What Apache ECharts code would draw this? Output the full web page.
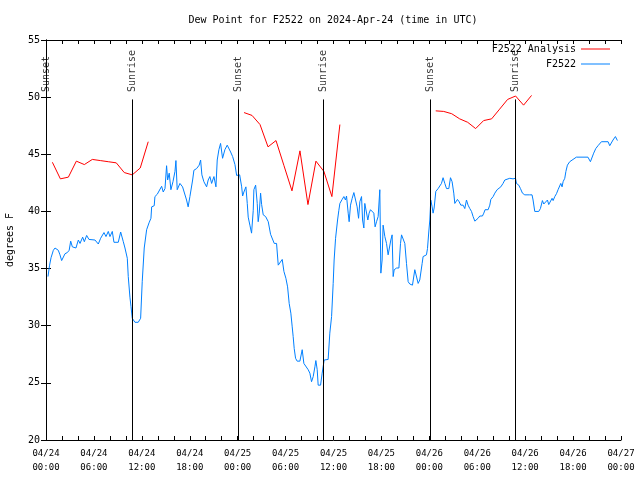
<!DOCTYPE html>
<html><head><meta charset="utf-8">
<script src="https://cdn.jsdelivr.net/npm/echarts@6/dist/echarts.min.js"></script>
<style>html,body{margin:0;padding:0;background:#fff}#c{width:640px;height:480px}</style>
</head><body><div id="c"></div>
<script>
// Hours since 2024-04-24 00:00 UTC
const analysisHours = [0.8,1.8,2.8,3.8,4.8,5.8,6.8,7.8,8.8,9.8,10.8,11.8,12.8,null,
  24.8,25.8,26.8,27.8,28.8,29.8,30.8,31.8,32.8,33.8,34.8,35.8,36.8,null,
  48.8,49.8,50.8,51.8,52.8,53.8,54.8,55.8,56.8,57.8,58.8,59.8,60.8];
const analysisValues = [44.3,42.85,43.0,44.4,44.1,44.55,44.45,44.35,44.25,43.4,43.2,43.8,46.1,null,
  48.65,48.4,47.6,45.65,46.2,44.0,41.8,45.3,40.6,44.4,43.5,41.3,47.6,null,
  48.8,48.75,48.55,48.1,47.8,47.25,47.95,48.1,48.95,49.8,50.1,49.3,50.15];

const f2522Hours = [0.25,0.45,0.63,0.92,1.13,1.54,1.75,1.96,2.2,2.38,2.67,2.9,3.09,3.3,3.75,4.05,4.26,4.59,4.8,5.09,5.38,6.13,6.35,6.55,6.84,7.26,7.51,7.8,8.01,8.3,8.51,9.05,9.35,9.68,9.89,10.18,10.3,10.51,10.64,10.8,11.14,11.55,11.85,12.05,12.3,12.6,12.9,13.14,13.23,13.55,13.64,13.93,14.18,14.48,14.68,14.9,15.1,15.23,15.43,15.64,15.9,16.15,16.27,16.43,16.77,17.1,17.6,17.8,18.02,18.36,18.52,18.86,19.18,19.36,19.52,19.77,20.11,20.31,20.52,20.74,21.03,21.28,21.44,21.65,21.86,22.11,22.4,22.69,22.9,23.12,23.37,23.66,23.87,24.25,24.5,24.62,24.78,25.03,25.2,25.32,25.53,25.74,25.95,26.03,26.25,26.45,26.57,26.7,26.87,27.0,27.2,27.5,27.83,28.12,28.37,28.58,28.87,29.08,29.29,29.58,29.79,30.04,30.25,30.45,30.66,30.83,30.95,31.08,31.25,31.45,31.79,32.08,32.29,32.54,32.83,33.04,33.25,33.46,33.67,33.79,33.96,34.08,34.38,34.58,34.83,35.33,35.54,35.76,35.96,36.08,36.26,36.51,36.67,36.8,37.08,37.3,37.5,37.63,37.84,37.96,38.13,38.34,38.55,38.76,38.96,39.14,39.3,39.51,39.64,39.8,39.92,40.13,40.3,40.46,40.63,40.88,41.05,41.21,41.39,41.59,41.8,41.93,42.09,42.21,42.43,42.64,42.84,43.05,43.18,43.34,43.47,43.6,43.9,44.19,44.39,44.52,44.72,44.93,45.14,45.35,45.55,45.89,46.18,46.39,46.6,46.8,47.1,47.22,47.64,47.77,47.93,48.06,48.18,48.35,48.47,48.6,48.81,49.1,49.31,49.52,49.72,49.94,50.15,50.44,50.65,50.85,51.06,51.19,51.31,51.52,51.73,51.94,52.23,52.44,52.65,52.85,53.07,53.28,53.48,53.7,53.9,54.1,54.32,54.65,54.82,54.98,55.36,55.57,55.7,55.99,56.2,56.49,56.74,56.95,57.23,57.45,57.65,58.07,58.48,58.79,58.91,59.2,59.41,59.66,59.95,60.57,60.7,60.86,60.99,61.2,61.7,61.91,62.16,62.33,62.58,62.79,62.95,63.17,63.37,63.5,63.71,63.92,64.12,64.33,64.46,64.62,64.75,64.96,65.1,65.29,65.45,65.58,65.79,66.41,67.86,68.17,68.42,68.58,68.84,69.12,69.55,70.38,70.59,70.8,71.0,71.3,71.55];
const f2522Values = [34.3,35.3,35.95,36.6,36.8,36.6,36.2,35.7,35.8,36.3,36.4,36.6,37.4,36.9,36.8,37.5,37.2,37.75,37.35,37.9,37.55,37.5,37.5,37.15,37.65,38.15,37.8,38.25,37.8,38.25,37.3,37.3,38.2,37.35,36.8,35.9,34.3,32.5,31.7,30.65,30.3,30.3,30.65,33.85,36.8,38.4,39.0,39.4,40.4,40.5,41.3,41.5,41.6,42.2,41.7,42.0,44.0,42.75,43.35,41.9,42.6,43.5,44.45,41.9,42.45,42.15,41.0,40.4,41.3,42.75,43.6,43.75,44.05,44.5,43.2,42.6,42.15,42.75,43.05,42.45,43.05,42.15,44.5,45.4,45.95,44.65,45.4,45.8,45.65,45.2,44.8,44.1,43.15,43.2,42.15,41.35,41.7,42.15,40.7,39.5,38.8,38.1,40.1,41.9,42.3,40.7,39.1,39.85,41.6,40.6,39.7,39.55,39.1,38.0,38.1,37.2,37.2,35.3,35.45,35.8,34.75,34.15,33.4,31.95,31.1,29.9,29.05,28.0,27.15,26.9,26.9,27.9,26.7,26.55,26.15,25.85,25.1,25.55,26.4,26.95,26.15,24.8,24.8,25.85,27.0,27.05,29.35,30.8,33.7,35.75,37.65,39.25,40.1,40.7,41.05,41.3,41.0,41.35,39.85,39.1,40.55,41.15,41.65,41.6,40.4,39.4,40.85,41.3,39.25,38.55,40.7,40.85,39.25,39.85,40.15,40.25,39.85,38.65,39.1,39.55,41.9,34.6,35.75,38.8,37.8,37.2,36.2,36.2,37.5,37.95,34.3,34.9,35.05,35.05,37.2,37.95,37.85,37.2,35.45,33.85,33.65,33.55,34.9,34.95,33.7,34.0,35.45,36.05,36.2,36.75,38.2,39.25,41.0,40.4,39.85,40.3,41.75,42.0,41.9,42.45,42.95,42.45,42.0,42.0,42.95,42.6,41.6,40.7,40.85,41.05,40.85,40.55,40.55,40.25,41.0,40.55,40.25,40.0,39.55,39.15,39.15,39.4,39.6,39.6,39.85,40.15,40.15,40.55,41.05,41.3,41.6,41.9,41.95,42.15,42.45,42.75,42.9,42.9,42.85,42.9,42.45,42.3,42.0,41.6,41.45,41.45,41.6,41.45,41.0,40.0,40.0,40.25,40.95,40.65,40.7,41.0,40.6,40.7,41.15,40.95,41.3,41.55,41.9,41.95,42.45,42.15,42.6,42.9,43.5,44.05,43.9,44.35,44.35,44.75,44.75,44.35,44.25,45.1,45.5,45.75,46.1,46.1,45.75,45.75,46.25,46.55,46.2];

const sunEventHours = [0.08, 10.78, 24.1, 34.72, 48.13, 58.8];
const sunEventNames = ['Sunset','Sunrise','Sunset','Sunrise','Sunset','Sunrise'];

const days = ['04/24','04/25','04/26','04/27'];

const FONT = 'DejaVu Sans Mono';
const SUN_LINE_TOP = 49.8;
const SUN_LABEL_BASE = 50.45;
const LINE_ICON = 'path://M0,0H29V1H0Z';

function pairs(xs, ys){ return xs.map((x,i)=> (x===null||ys[i]===null) ? ['-','-'] : [x, ys[i]]); }
function xLabel(v){
  if (v % 6 !== 0) return '';
  const d = days[Math.floor(v/24)];
  const h = v % 24;
  return d + '\n' + (h<10?'0':'') + h + ':00';
}

const chart = echarts.init(document.getElementById('c'), null, {renderer:'canvas'});
chart.setOption({
  animation: false,
  backgroundColor: '#fff',
  title: {
    text: 'Dew Point for F2522 on 2024-Apr-24 (time in UTC)',
    left: 328, top: 10, textAlign: 'center',
    textStyle: {fontFamily: FONT, fontSize: 10, fontWeight: 'normal', color: '#000'}
  },
  legend: {
    data: [{name:'F2522 Analysis', icon: LINE_ICON},{name:'F2522', icon: LINE_ICON}],
    orient: 'vertical', align: 'right', right: 30, top: 44, padding: 0,
    itemWidth: 29, itemHeight: 12, itemGap: 5,
    textStyle: {fontFamily: FONT, fontSize: 10, color: '#000'},
    selectedMode: false
  },
  grid: {left: 46, right: 19, top: 40, bottom: 40, outerBoundsMode: 'none', containLabel: false},
  xAxis: [{
    type: 'value', min: 0, max: 72, interval: 2, position: 'bottom',
    axisLine: {lineStyle: {color: '#000', width: 1}},
    axisTick: {inside: true, length: 4, lineStyle: {color: '#000'}},
    axisLabel: {formatter: xLabel, fontFamily: FONT, fontSize: 9, color: '#000', margin: 7, lineHeight: 14, showMinLabel: true, showMaxLabel: true, hideOverlap: false},
    splitLine: {show: false}
  },{
    type: 'value', min: 0, max: 72, interval: 2, position: 'top',
    axisLine: {lineStyle: {color: '#000', width: 1}},
    axisTick: {inside: true, length: 4, lineStyle: {color: '#000'}},
    axisLabel: {show: false}, splitLine: {show: false}
  }],
  yAxis: [{
    type: 'value', min: 20, max: 55, interval: 5, position: 'left',
    name: 'degrees F', nameLocation: 'middle', nameGap: 31, nameRotate: 90,
    nameTextStyle: {fontFamily: FONT, fontSize: 10, color: '#000'},
    axisLine: {show: true, lineStyle: {color: '#000', width: 1}},
    axisTick: {show: true, inside: true, length: 5, lineStyle: {color: '#000'}},
    axisLabel: {fontFamily: FONT, fontSize: 10, color: '#000', margin: 6},
    splitLine: {show: false}
  },{
    type: 'value', min: 20, max: 55, interval: 5, position: 'right',
    axisLine: {show: true, lineStyle: {color: '#000', width: 1}},
    axisTick: {show: true, inside: true, length: 5, lineStyle: {color: '#000'}},
    axisLabel: {show: false}, splitLine: {show: false}
  }],
  series: [{
    name: 'F2522 Analysis', type: 'line', data: pairs(analysisHours, analysisValues),
    showSymbol: false, symbol: 'none', connectNulls: false,
    lineStyle: {color: '#ff0000', width: 1}, itemStyle: {color: '#ff0000'}, z: 3
  },{
    name: 'F2522', type: 'line', data: pairs(f2522Hours, f2522Values),
    showSymbol: false, symbol: 'none',
    lineStyle: {color: '#0080ff', width: 1}, itemStyle: {color: '#0080ff'}, z: 2
  },{
    name: 'sun', type: 'scatter', symbolSize: 1, itemStyle: {color: 'rgba(0,0,0,0)'},
    data: sunEventHours.map((t,i)=>({name: sunEventNames[i], value: [t, SUN_LABEL_BASE]})),
    label: {show: true, formatter: p=>p.name, position: 'inside', align: 'left', verticalAlign: 'middle', rotate: 90,
      fontFamily: FONT, fontSize: 10, color: '#000'},
    labelLayout: {hideOverlap: false},
    markLine: {
      silent: true, symbol: 'none', animation: false,
      lineStyle: {color: '#000', width: 1, type: 'solid'},
      label: {show: false},
      data: sunEventHours.map(t=>[{coord:[t, SUN_LINE_TOP]},{coord:[t, 20]}])
    },
    z: 4
  }]
});
</script></body></html>
